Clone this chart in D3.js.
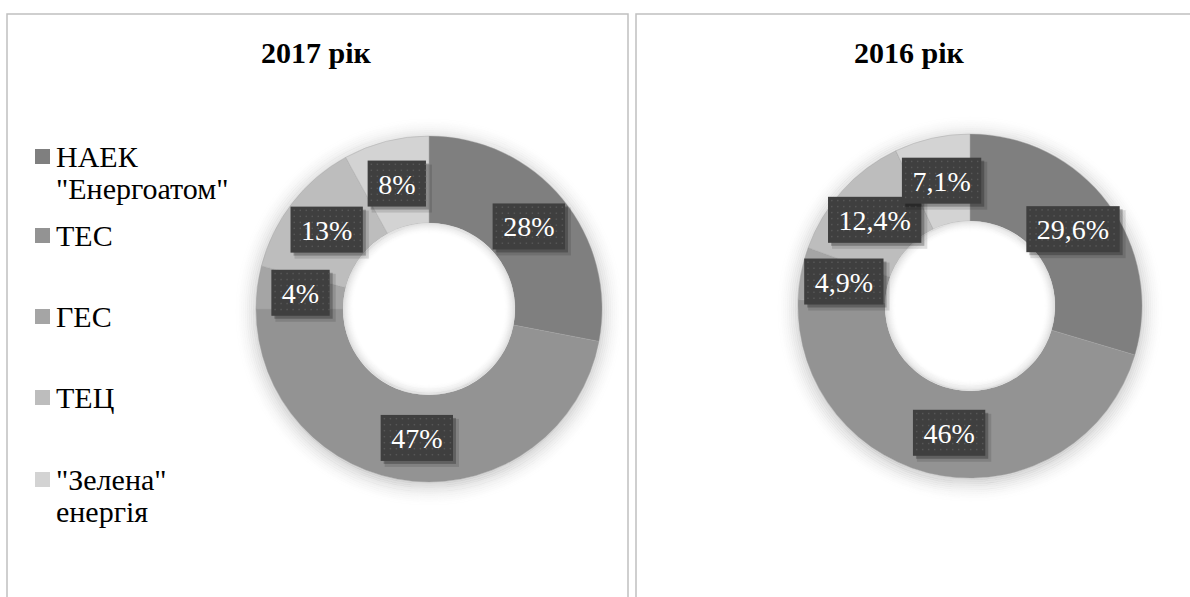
<!DOCTYPE html>
<html>
<head>
<meta charset="utf-8">
<script src="https://cdnjs.cloudflare.com/ajax/libs/d3/7.8.5/d3.min.js"></script>
<style>
  html, body { margin: 0; padding: 0; background: #fff; }
</style>
</head>
<body>
<svg id="chart" width="1190" height="597"></svg>
<script>
// Electricity generation structure by producer, shares in percent
const categories = ['НАЕК "Енергоатом"', 'ТЕС', 'ГЕС', 'ТЕЦ', '"Зелена" енергія'];
const legendLines = [['НАЕК', '"Енергоатом"'], ['ТЕС'], ['ГЕС'], ['ТЕЦ'], ['"Зелена"', 'енергія']];
const values2017 = [28, 47, 4, 13, 8];
const labels2017 = ['28%', '47%', '4%', '13%', '8%'];
const values2016 = [29.6, 46, 4.9, 12.4, 7.1];
const labels2016 = ['29,6%', '46%', '4,9%', '12,4%', '7,1%'];
const titles = ['2017 рік', '2016 рік'];

const colors = ['#7f7f7f', '#939393', '#a5a5a5', '#bdbdbd', '#d3d3d3'];
const color = d3.scaleOrdinal().domain(categories).range(colors);

const FONT = "'Liberation Serif'";

// advance widths (em) of the serif face for the value-label glyphs
const glyphEm = ch => ch === '%' ? 0.833 : ch === ',' ? 0.25 : 0.5;
const labelWidth = (s, size) => Array.from(s).reduce((a, c) => a + glyphEm(c), 0) * size;

const svg = d3.select('#chart');

const GLOW = 24;   // width of the soft halo around a ring
const INNER = 12;  // depth of the shading inside the hole

// panel frames
const panels = [{x: 7, w: 621}, {x: 636, w: 560}];
panels.forEach(p => {
  svg.append('path')
    .attr('d', `M${p.x},600 V14 H${p.x + p.w} V600`)
    .attr('fill', 'none').attr('stroke', '#c0c0c0').attr('stroke-width', 1.5);
});

const pie = d3.pie().sort(null).value(d => d.v);

function donut(cx, cy, rOut, rIn, title, titleX, values, labels) {
  svg.append('text')
    .attr('x', titleX).attr('y', 63)
    .attr('text-anchor', 'middle')
    .attr('font-family', 'Liberation Serif')
    .style('font-family', FONT).style('font-weight', 'bold').style('font-size', '30px')
    .attr('fill', '#000').text(title);

  const data = values.map((v, i) => ({v, cat: categories[i], label: labels[i]}));
  const arcs = pie(data);
  const arc = d3.arc().innerRadius(rIn).outerRadius(rOut);

  const g = svg.append('g').attr('transform', `translate(${cx},${cy})`);

  // halo: thin rings fading outwards
  g.append('g').selectAll('circle').data(d3.range(0, GLOW, 2)).join('circle')
    .attr('cy', 3).attr('r', k => rOut - 2 + k)
    .attr('fill', 'none').attr('stroke', '#7a7a7a').attr('stroke-width', 2.2)
    .attr('stroke-opacity', k => 0.3 * Math.pow(1 - k / GLOW, 2));

  g.append('g').selectAll('path').data(arcs).join('path')
    .attr('d', arc)
    .attr('fill', d => color(d.data.cat))
    .attr('stroke', '#a0a0a0').attr('stroke-width', 0.4);

  // hole with a soft inner shadow along its rim
  g.append('circle').attr('r', rIn).attr('fill', '#fff');
  g.append('g').selectAll('circle').data(d3.range(0, INNER, 1)).join('circle')
    .attr('r', k => rIn - 0.5 - k)
    .attr('fill', 'none').attr('stroke', '#000').attr('stroke-width', 1.1)
    .attr('stroke-opacity', k => 0.12 * Math.pow(1 - k / INNER, 2));

  const lab = g.selectAll('g.lab').data(arcs).join('g').attr('class', 'lab')
    .attr('transform', d => `translate(${arc.centroid(d)})`);
  const bw = d => labelWidth(d.data.label, 28) + 21;
  // layered offset rects give the boxes a soft drop shadow
  [[5, 0.12, 2], [3, 0.25, 0]].forEach(([off, op, grow]) => {
    lab.append('rect')
      .attr('x', d => -bw(d) / 2 + off - grow / 2).attr('y', -23 + off - grow / 2)
      .attr('width', d => bw(d) + grow).attr('height', 46 + grow)
      .attr('fill', '#000').attr('opacity', op);
  });
  lab.append('rect')
    .attr('x', d => -bw(d) / 2).attr('y', -23)
    .attr('width', bw).attr('height', 46)
    .attr('fill', '#3f3f3f');
  // dotted texture
  lab.each(function(d) {
    const w = bw(d);
    const pts = [];
    d3.range(-w / 2 + 3, w / 2 - 1, 6).forEach(x =>
      d3.range(-20, 22, 6).forEach(y => pts.push([x, y])));
    d3.select(this).append('g').selectAll('rect').data(pts).join('rect')
      .attr('x', p => p[0]).attr('y', p => p[1])
      .attr('width', 1.5).attr('height', 1.5).attr('fill', '#575757');
  });
  lab.append('text')
    .attr('text-anchor', 'middle').attr('y', 10)
    .attr('font-family', 'Liberation Serif')
    .style('font-family', FONT).style('font-size', '28px')
    .attr('fill', '#fff')
    .text(d => d.data.label);
}

donut(429, 309, 173, 86, titles[0], 316, values2017, labels2017);
donut(970, 306, 172, 85, titles[1], 909, values2016, labels2016);

// legend (baseline of each item's first line)
const legendBase = [167, 246, 327, 408, 490];
const lg = svg.append('g');
legendLines.forEach((lines, i) => {
  const y = legendBase[i];
  lg.append('rect').attr('x', 35).attr('y', y - 18).attr('width', 15).attr('height', 15)
    .attr('fill', colors[i]);
  lines.forEach((ln, j) => {
    lg.append('text')
      .attr('x', 56).attr('y', y + j * 32)
      .attr('font-family', 'Liberation Serif')
      .style('font-family', FONT).style('font-size', '30px')
      .attr('fill', '#000')
      .text(ln);
  });
});
</script>
</body>
</html>
